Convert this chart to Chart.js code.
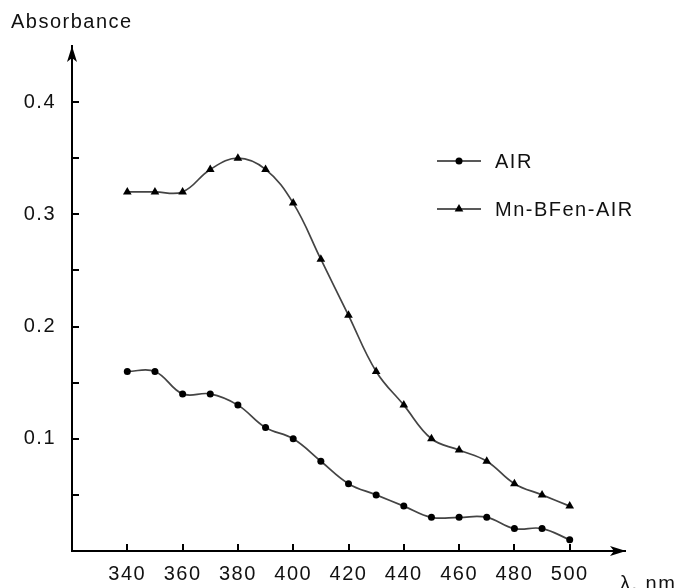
<!DOCTYPE html>
<html>
<head>
<meta charset="utf-8">
<script src="https://cdn.jsdelivr.net/npm/chart.js@4/dist/chart.umd.min.js"></script>
<style>
    html, body { margin: 0; padding: 0; background: #fff; }
    #wrap { width: 676px; height: 588px; }
</style>
</head>
<body>
<div id="wrap"><canvas id="spectrumChart" width="676" height="588"></canvas></div>
<script>
// Data
const wavelengths = [340, 350, 360, 370, 380, 390, 400, 410, 420, 430, 440, 450, 460, 470, 480, 490, 500];
const airValues = [0.16, 0.16, 0.14, 0.14, 0.13, 0.11, 0.10, 0.08, 0.06, 0.05, 0.04, 0.03, 0.03, 0.03, 0.02, 0.02, 0.01];
const complexValues = [0.32, 0.32, 0.32, 0.34, 0.35, 0.34, 0.31, 0.26, 0.21, 0.16, 0.13, 0.10, 0.09, 0.08, 0.06, 0.05, 0.04];
const seriesNames = ['AIR', 'Mn-BFen-AIR'];
const seriesMarkers = ['circle', 'triangle'];
const xTickValues = [340, 360, 380, 400, 420, 440, 460, 480, 500];
const yTickValues = [0, 0.05, 0.1, 0.15, 0.2, 0.25, 0.3, 0.35, 0.4];
const yLabelled = [0.1, 0.2, 0.3, 0.4];
const yTitle = 'Absorbance';
const xTitle = 'λ, nm';

const FONT = 'Liberation Sans, Arial, sans-serif';
const FONT_SIZE = 20;
const INK = '#111';
const LINE = '#444';

// arrows, legend and the x-axis name
const decorPlugin = {
    id: 'decor',
    beforeDraw(chart) {
        chart.ctx.letterSpacing = '1.5px';
    },
    afterDraw(chart) {
        const ctx = chart.ctx;
        const area = chart.chartArea;
        ctx.save();
        ctx.fillStyle = '#000';

        // y arrow
        ctx.beginPath();
        ctx.moveTo(area.left, area.top);
        ctx.lineTo(area.left - 5, area.top + 16);
        ctx.lineTo(area.left, area.top + 12);
        ctx.lineTo(area.left + 5, area.top + 16);
        ctx.closePath();
        ctx.fill();

        // x arrow
        ctx.beginPath();
        ctx.moveTo(area.right + 1, area.bottom);
        ctx.lineTo(area.right - 15, area.bottom - 5);
        ctx.lineTo(area.right - 11, area.bottom);
        ctx.lineTo(area.right - 15, area.bottom + 5);
        ctx.closePath();
        ctx.fill();

        // legend
        const rows = [161, 209];
        rows.forEach((y, i) => {
            ctx.strokeStyle = '#222';
            ctx.lineWidth = 1.6;
            ctx.beginPath();
            ctx.moveTo(437, y);
            ctx.lineTo(481, y);
            ctx.stroke();
            ctx.fillStyle = '#000';
            ctx.strokeStyle = '#000';
            Chart.helpers.drawPoint(ctx, {
                pointStyle: seriesMarkers[i],
                radius: i === 0 ? 3.5 : 5,
                borderWidth: 0
            }, 459, y);
            ctx.fillStyle = INK;
            ctx.font = FONT_SIZE + 'px ' + FONT;
            ctx.textAlign = 'left';
            ctx.textBaseline = 'middle';
            ctx.fillText(seriesNames[i], 495, y + 1);
        });

        // x axis name
        ctx.fillStyle = INK;
        ctx.font = FONT_SIZE + 'px ' + FONT;
        ctx.textAlign = 'left';
        ctx.textBaseline = 'alphabetic';
        ctx.fillText(xTitle, 620, 590);
        ctx.restore();
    }
};

function toPoints(values) {
    return wavelengths.map((w, i) => ({ x: w, y: values[i] }));
}

const ctx = document.getElementById('spectrumChart').getContext('2d');
new Chart(ctx, {
    type: 'line',
    data: {
        datasets: [
            {
                label: seriesNames[0],
                data: toPoints(airValues),
                borderColor: LINE,
                borderWidth: 1.7,
                tension: 0.4,
                pointStyle: seriesMarkers[0],
                pointRadius: 3.5,
                pointBorderWidth: 0,
                pointBackgroundColor: '#000',
                pointBorderColor: '#000'
            },
            {
                label: seriesNames[1],
                data: toPoints(complexValues),
                borderColor: LINE,
                borderWidth: 1.7,
                tension: 0.4,
                pointStyle: seriesMarkers[1],
                pointRadius: 5,
                pointBorderWidth: 0,
                pointBackgroundColor: '#000',
                pointBorderColor: '#000'
            }
        ]
    },
    options: {
        responsive: false,
        devicePixelRatio: 1,
        animation: false,
        layout: {
            padding: { left: 11, right: 51, top: 0, bottom: 0 }
        },
        plugins: {
            legend: { display: false },
            tooltip: { enabled: false },
            title: {
                display: true,
                text: yTitle,
                align: 'start',
                color: INK,
                font: { family: FONT, size: FONT_SIZE, weight: 'normal', lineHeight: 1.2 },
                padding: { top: 10, bottom: 12 }
            }
        },
        scales: {
            x: {
                type: 'linear',
                min: 320,
                max: 520,
                afterBuildTicks: scale => {
                    scale.ticks = xTickValues.map(v => ({ value: v }));
                },
                afterFit: scale => { scale.height = 37; },
                grid: {
                    drawOnChartArea: false,
                    drawTicks: true,
                    tickLength: -7,
                    color: '#000',
                    lineWidth: 2
                },
                border: { display: true, color: '#000', width: 2 },
                ticks: {
                    padding: 18,
                    color: INK,
                    maxRotation: 0,
                    font: { family: FONT, size: FONT_SIZE },
                    callback: value => String(value)
                }
            },
            y: {
                min: 0,
                max: 0.45,
                afterBuildTicks: scale => {
                    scale.ticks = yTickValues.map(v => ({ value: v }));
                },
                afterFit: scale => { scale.width = 61; },
                grid: {
                    drawOnChartArea: false,
                    drawTicks: true,
                    tickLength: -7,
                    color: '#000',
                    lineWidth: 2
                },
                border: { display: true, color: '#000', width: 2 },
                ticks: {
                    padding: 23,
                    color: INK,
                    font: { family: FONT, size: FONT_SIZE },
                    callback: value => yLabelled.includes(value) ? value.toFixed(1) : ''
                }
            }
        }
    },
    plugins: [decorPlugin]
});
</script>
</body>
</html>
